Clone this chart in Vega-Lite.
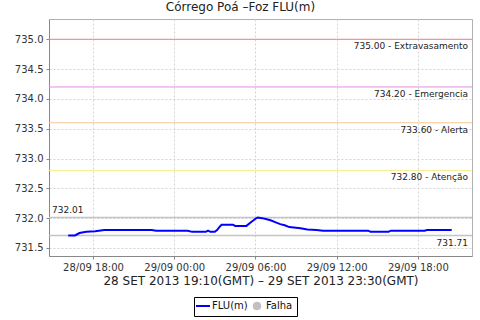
{
  "$schema": "https://vega.github.io/schema/vega-lite/v6.json",
  "autosize": "none",
  "width": 423,
  "height": 237,
  "padding": {"left": 49, "top": 19, "right": 8, "bottom": 64},
  "background": "white",
  "title": {"text": "Córrego Poá –Foz FLU(m)", "font": "DejaVu Sans", "fontSize": 12, "fontWeight": "normal", "color": "#222222", "dx": -20, "offset": 5},
  "config": {
    "view": {"stroke": "#b0b0b0"},
    "axis": {"labelFont": "DejaVu Sans", "labelFontSize": 10, "labelColor": "#333333", "domainColor": "#888888", "tickColor": "#888888", "tickSize": 3, "labelPadding": 3, "gridColor": "#d4d4d4", "gridDash": [2, 2], "titleFont": "DejaVu Sans", "titleFontWeight": "normal", "titleColor": "#222222"},
    "axisY": {"labelOverlap": false, "labelFlush": false},
    "legend": {"orient": "none", "legendX": 145, "legendY": 278, "direction": "horizontal", "gridAlign": "none", "strokeColor": "black", "padding": 4, "labelFont": "DejaVu Sans", "labelFontSize": 10, "labelColor": "#111111", "columnPadding": 3, "labelOffset": 4, "symbolSize": 196, "symbolStrokeWidth": 2}
  },
  "datasets": {
    "flu": [
      {"t": "2013-09-28T16:10:00Z", "v": 731.71},
      {"t": "2013-09-28T16:40:00Z", "v": 731.71},
      {"t": "2013-09-28T17:00:00Z", "v": 731.75},
      {"t": "2013-09-28T17:30:00Z", "v": 731.77},
      {"t": "2013-09-28T18:10:00Z", "v": 731.78},
      {"t": "2013-09-28T18:50:00Z", "v": 731.80},
      {"t": "2013-09-28T20:00:00Z", "v": 731.80},
      {"t": "2013-09-28T21:30:00Z", "v": 731.80},
      {"t": "2013-09-28T22:20:00Z", "v": 731.80},
      {"t": "2013-09-28T22:40:00Z", "v": 731.79},
      {"t": "2013-09-28T23:30:00Z", "v": 731.79},
      {"t": "2013-09-29T00:30:00Z", "v": 731.79},
      {"t": "2013-09-29T01:00:00Z", "v": 731.79},
      {"t": "2013-09-29T01:20:00Z", "v": 731.77},
      {"t": "2013-09-29T02:00:00Z", "v": 731.77},
      {"t": "2013-09-29T02:20:00Z", "v": 731.77},
      {"t": "2013-09-29T02:30:00Z", "v": 731.79},
      {"t": "2013-09-29T02:40:00Z", "v": 731.77},
      {"t": "2013-09-29T03:00:00Z", "v": 731.77},
      {"t": "2013-09-29T03:10:00Z", "v": 731.80},
      {"t": "2013-09-29T03:20:00Z", "v": 731.85},
      {"t": "2013-09-29T03:30:00Z", "v": 731.89},
      {"t": "2013-09-29T04:20:00Z", "v": 731.89},
      {"t": "2013-09-29T04:30:00Z", "v": 731.87},
      {"t": "2013-09-29T05:20:00Z", "v": 731.87},
      {"t": "2013-09-29T05:40:00Z", "v": 731.93},
      {"t": "2013-09-29T06:00:00Z", "v": 731.99},
      {"t": "2013-09-29T06:10:00Z", "v": 732.01},
      {"t": "2013-09-29T06:30:00Z", "v": 732.00},
      {"t": "2013-09-29T06:50:00Z", "v": 731.98},
      {"t": "2013-09-29T07:10:00Z", "v": 731.96},
      {"t": "2013-09-29T07:30:00Z", "v": 731.93},
      {"t": "2013-09-29T07:50:00Z", "v": 731.90},
      {"t": "2013-09-29T08:10:00Z", "v": 731.88},
      {"t": "2013-09-29T08:30:00Z", "v": 731.85},
      {"t": "2013-09-29T09:00:00Z", "v": 731.84},
      {"t": "2013-09-29T09:20:00Z", "v": 731.83},
      {"t": "2013-09-29T09:50:00Z", "v": 731.81},
      {"t": "2013-09-29T10:30:00Z", "v": 731.80},
      {"t": "2013-09-29T11:00:00Z", "v": 731.79},
      {"t": "2013-09-29T12:30:00Z", "v": 731.79},
      {"t": "2013-09-29T14:20:00Z", "v": 731.79},
      {"t": "2013-09-29T14:30:00Z", "v": 731.77},
      {"t": "2013-09-29T15:00:00Z", "v": 731.77},
      {"t": "2013-09-29T15:50:00Z", "v": 731.77},
      {"t": "2013-09-29T16:00:00Z", "v": 731.79},
      {"t": "2013-09-29T17:00:00Z", "v": 731.79},
      {"t": "2013-09-29T18:30:00Z", "v": 731.79},
      {"t": "2013-09-29T18:40:00Z", "v": 731.80},
      {"t": "2013-09-29T19:30:00Z", "v": 731.80},
      {"t": "2013-09-29T20:30:00Z", "v": 731.80}
    ],
    "levels": [
      {"v": 735.0, "kind": "Extravasamento", "label": "735.00 - Extravasamento"},
      {"v": 734.2, "kind": "Emergencia", "label": "734.20 - Emergencia"},
      {"v": 733.6, "kind": "Alerta", "label": "733.60 - Alerta"},
      {"v": 732.8, "kind": "Atenção", "label": "732.80 - Atenção"}
    ],
    "extremes": [
      {"v": 732.01, "kind": "max", "label": "732.01"},
      {"v": 731.71, "kind": "min", "label": "731.71"}
    ]
  },
  "layer": [
    {
      "data": {"name": "levels"},
      "mark": {"type": "rule", "strokeWidth": 1},
      "encoding": {
        "y": {"field": "v", "type": "quantitative",
          "scale": {"domain": [731.365, 735.34], "zero": false, "nice": false},
          "axis": {"title": null, "labelExpr": "format(datum.value, '.1f')", "grid": true, "labelOverlap": false, "values": [731.5, 732.0, 732.5, 733.0, 733.5, 734.0, 734.5, 735.0]}},
        "stroke": {"field": "kind", "type": "nominal", "legend": null,
          "scale": {"domain": ["Extravasamento", "Emergencia", "Alerta", "Atenção"], "range": ["#e88484", "#e68ee6", "#f6c898", "#f4ee8c"]}}
      }
    },
    {
      "data": {"name": "extremes"},
      "mark": {"type": "rule", "strokeWidth": 1.5, "color": "#c4c4c4"},
      "encoding": {
        "y": {"field": "v", "type": "quantitative", "axis": {"title": null, "labelExpr": "format(datum.value, '.1f')", "grid": true, "labelOverlap": false, "values": [731.5, 732.0, 732.5, 733.0, 733.5, 734.0, 734.5, 735.0]}}
      }
    },
    {
      "data": {"name": "flu"},
      "transform": [{"calculate": "'FLU(m)'", "as": "serie"}],
      "mark": {"type": "line", "strokeWidth": 2, "interpolate": "linear"},
      "encoding": {
        "x": {"field": "t", "type": "temporal",
          "scale": {"type": "utc", "domain": [{"year": 2013, "month": "sep", "date": 28, "hours": 14, "minutes": 45, "utc": true}, {"year": 2013, "month": "sep", "date": 29, "hours": 22, "minutes": 0, "utc": true}]},
          "axis": {"title": "28 SET 2013 19:10(GMT) – 29 SET 2013 23:30(GMT)", "titleFontSize": 12, "titlePadding": 3, "labelExpr": "utcFormat(datum.value, '%d/%m %H:%M')", "grid": true, "labelOverlap": false,
            "values": [
              {"year": 2013, "month": "sep", "date": 28, "hours": 18, "utc": true},
              {"year": 2013, "month": "sep", "date": 29, "hours": 0, "utc": true},
              {"year": 2013, "month": "sep", "date": 29, "hours": 6, "utc": true},
              {"year": 2013, "month": "sep", "date": 29, "hours": 12, "utc": true},
              {"year": 2013, "month": "sep", "date": 29, "hours": 18, "utc": true}
            ]}},
        "y": {"field": "v", "type": "quantitative", "axis": {"title": null, "labelExpr": "format(datum.value, '.1f')", "grid": true, "labelOverlap": false, "values": [731.5, 732.0, 732.5, 733.0, 733.5, 734.0, 734.5, 735.0]}},
        "color": {"field": "serie", "type": "nominal",
          "scale": {"domain": ["FLU(m)", "Falha"], "range": ["#0000ff", "#c0c0c0"]},
          "legend": {"title": null,
            "encode": {"symbols": {"update": {
              "shape": {"signal": "datum.value == 'Falha' ? 'circle' : 'stroke'"},
              "size": {"signal": "datum.value == 'Falha' ? 60 : 196"},
              "fill": {"signal": "datum.value == 'Falha' ? '#c0c0c0' : 'transparent'"},
              "stroke": {"signal": "datum.value == 'Falha' ? '#c0c0c0' : '#0000ff'"},
              "strokeWidth": {"signal": "datum.value == 'Falha' ? 1 : 2"}
            }}}}}
      }
    },
    {
      "data": {"name": "levels"},
      "mark": {"type": "text", "align": "right", "baseline": "top", "dx": -4, "dy": 3, "font": "DejaVu Sans", "fontSize": 9, "color": "#222222"},
      "encoding": {
        "x": {"datum": {"year": 2013, "month": "sep", "date": 29, "hours": 22, "minutes": 0, "utc": true}, "type": "temporal"},
        "y": {"field": "v", "type": "quantitative", "axis": {"title": null, "labelExpr": "format(datum.value, '.1f')", "grid": true, "labelOverlap": false, "values": [731.5, 732.0, 732.5, 733.0, 733.5, 734.0, 734.5, 735.0]}},
        "text": {"field": "label"}
      }
    },
    {
      "data": {"name": "extremes"},
      "transform": [{"filter": "datum.kind == 'max'"}],
      "mark": {"type": "text", "align": "left", "baseline": "bottom", "dx": 3, "dy": -3, "font": "DejaVu Sans", "fontSize": 9, "color": "#222222"},
      "encoding": {
        "x": {"datum": {"year": 2013, "month": "sep", "date": 28, "hours": 14, "minutes": 45, "utc": true}, "type": "temporal"},
        "y": {"field": "v", "type": "quantitative", "axis": {"title": null, "labelExpr": "format(datum.value, '.1f')", "grid": true, "labelOverlap": false, "values": [731.5, 732.0, 732.5, 733.0, 733.5, 734.0, 734.5, 735.0]}},
        "text": {"field": "label"}
      }
    },
    {
      "data": {"name": "extremes"},
      "transform": [{"filter": "datum.kind == 'min'"}],
      "mark": {"type": "text", "align": "right", "baseline": "top", "dx": -4, "dy": 4, "font": "DejaVu Sans", "fontSize": 9, "color": "#222222"},
      "encoding": {
        "x": {"datum": {"year": 2013, "month": "sep", "date": 29, "hours": 22, "minutes": 0, "utc": true}, "type": "temporal"},
        "y": {"field": "v", "type": "quantitative", "axis": {"title": null, "labelExpr": "format(datum.value, '.1f')", "grid": true, "labelOverlap": false, "values": [731.5, 732.0, 732.5, 733.0, 733.5, 734.0, 734.5, 735.0]}},
        "text": {"field": "label"}
      }
    }
  ]
}
